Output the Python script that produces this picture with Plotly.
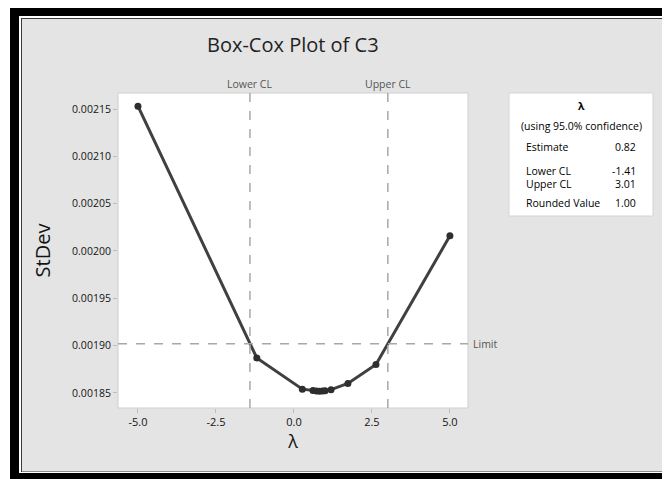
import plotly.graph_objects as go

# ---- data ----
lambdas = [-5.0, -1.19, 0.27, 0.61, 0.72, 0.82, 0.92, 1.0, 1.19, 1.73, 2.63, 5.0]
stdevs = [0.002153, 0.001887, 0.001854, 0.0018525, 0.001852, 0.0018518, 0.001852,
          0.0018522, 0.0018535, 0.00186, 0.00188, 0.002016]
lower_cl = -1.41
upper_cl = 3.01
estimate = 0.82
rounded = 1.00
limit = 0.001902
x_ticks = [-5.0, -2.5, 0.0, 2.5, 5.0]
y_ticks = [0.00185, 0.00190, 0.00195, 0.00200, 0.00205, 0.00210, 0.00215]

W, H = 670, 479
OFF = 8  # page body margin in the browser
# plot area in screen pixels
SL, SR, ST, SB = 118, 468, 93, 408
L, R, T, B = SL - OFF, SR - OFF, ST - OFF, SB - OFF
PW, PH = R - L, B - T


def px(x):  # screen x -> paper
    return (x - OFF - L) / PW


def py(y):  # screen y -> paper
    return (B - (y - OFF)) / PH


FONT = "Open Sans"
TXT = "#141414"

fig = go.Figure()
fig.add_trace(go.Scatter(
    x=lambdas, y=stdevs, mode="lines+markers",
    line=dict(color="#404040", width=3),
    marker=dict(color="#2e2e2e", size=7),
    hoverinfo="skip", showlegend=False,
))

BIG = 700
shapes = []
# outer frame
shapes.append(dict(type="rect", xref="paper", yref="paper", x0=px(10), x1=px(BIG),
                   y0=py(BIG), y1=py(7), fillcolor="black", line_width=0, layer="below"))
shapes.append(dict(type="rect", xref="paper", yref="paper", x0=px(19), x1=px(BIG),
                   y0=py(473), y1=py(16), fillcolor="white", line_width=0, layer="below"))
shapes.append(dict(type="rect", xref="paper", yref="paper", x0=px(21), x1=px(BIG),
                   y0=py(472), y1=py(18), fillcolor="#3a3a3a", line_width=0, layer="below"))
shapes.append(dict(type="rect", xref="paper", yref="paper", x0=px(22), x1=px(BIG),
                   y0=py(471.5), y1=py(19), fillcolor="#e4e4e4", line_width=0, layer="below"))
# plot area
shapes.append(dict(type="rect", xref="paper", yref="paper", x0=0, x1=1, y0=0, y1=1,
                   fillcolor="white", line=dict(color="#cfcfcf", width=1), layer="below"))
# legend box
shapes.append(dict(type="rect", xref="paper", yref="paper", x0=px(509), x1=px(653),
                   y0=py(216), y1=py(93), fillcolor="white",
                   line=dict(color="#d4d4d4", width=1), layer="below"))
# CL lines
for v in (lower_cl, upper_cl):
    shapes.append(dict(type="line", xref="x", yref="paper", x0=v, x1=v, y0=0, y1=1,
                       line=dict(color="#a8a8a8", width=1.5, dash="dash")))
# limit line
shapes.append(dict(type="line", xref="paper", yref="y", x0=0, x1=1, y0=limit, y1=limit,
                   line=dict(color="#a8a8a8", width=1.5, dash="dash")))

ann = []
ann.append(dict(text="Box-Cox Plot of C3", xref="paper", yref="paper", x=px(293), y=py(44),
                showarrow=False, font=dict(family=FONT, size=20, color="#222222"),
                xanchor="center", yanchor="middle"))
for v, t in ((lower_cl, "Lower CL"), (upper_cl, "Upper CL")):
    ann.append(dict(text=t, xref="x", yref="paper", x=v, y=py(84), showarrow=False,
                    font=dict(family=FONT, size=10.5, color="#555555"),
                    xanchor="center", yanchor="middle"))
ann.append(dict(text="Limit", xref="paper", yref="y", x=px(471), y=limit, showarrow=False,
                font=dict(family=FONT, size=10.5, color="#555555"),
                xanchor="left", yanchor="middle"))

# legend box texts
LF = dict(family=FONT, size=10.5, color="#000000")
ann.append(dict(text="<b>λ</b>", xref="paper", yref="paper", x=px(581), y=py(106),
                showarrow=False, font=LF, xanchor="center", yanchor="middle"))
ann.append(dict(text="(using 95.0% confidence)", xref="paper", yref="paper", x=px(581), y=py(126),
                showarrow=False, font=LF, xanchor="center", yanchor="middle"))
rows = [("Estimate", f"{estimate:.2f}", 147),
        ("Lower CL", f"{lower_cl:.2f}", 171),
        ("Upper CL", f"{upper_cl:.2f}", 184),
        ("Rounded Value", f"{rounded:.2f}", 203)]
for lab, val, yy in rows:
    ann.append(dict(text=lab, xref="paper", yref="paper", x=px(524), y=py(yy),
                    showarrow=False, font=LF, xanchor="left", yanchor="middle"))
    ann.append(dict(text=val, xref="paper", yref="paper", x=px(638), y=py(yy),
                    showarrow=False, font=LF, xanchor="right", yanchor="middle"))

fig.update_layout(
    width=W, height=H,
    margin=dict(l=L, r=W - R, t=T, b=H - B, pad=0),
    paper_bgcolor="white", plot_bgcolor="rgba(0,0,0,0)",
    shapes=shapes, annotations=ann,
    font=dict(family=FONT, color=TXT),
    xaxis=dict(range=[-5.64, 5.58], tickvals=x_ticks,
               ticktext=[f"{v:.1f}" for v in x_ticks],
               ticks="outside", ticklen=4, tickcolor="#bdbdbd",
               showgrid=False, zeroline=False, showline=False,
               tickfont=dict(family=FONT, size=11, color=TXT),
               title=dict(text="λ", font=dict(family=FONT, size=18, color=TXT), standoff=7)),
    yaxis=dict(range=[0.0018341, 0.0021669], tickvals=y_ticks,
               ticktext=[f"{v:.5f}" for v in y_ticks],
               ticks="outside", ticklen=4, tickcolor="#bdbdbd",
               showgrid=False, zeroline=False, showline=False,
               tickfont=dict(family=FONT, size=10.5, color=TXT),
               title=dict(text="StDev", font=dict(family=FONT, size=20, color=TXT), standoff=16)),
)

fig.write_html("out.html")
